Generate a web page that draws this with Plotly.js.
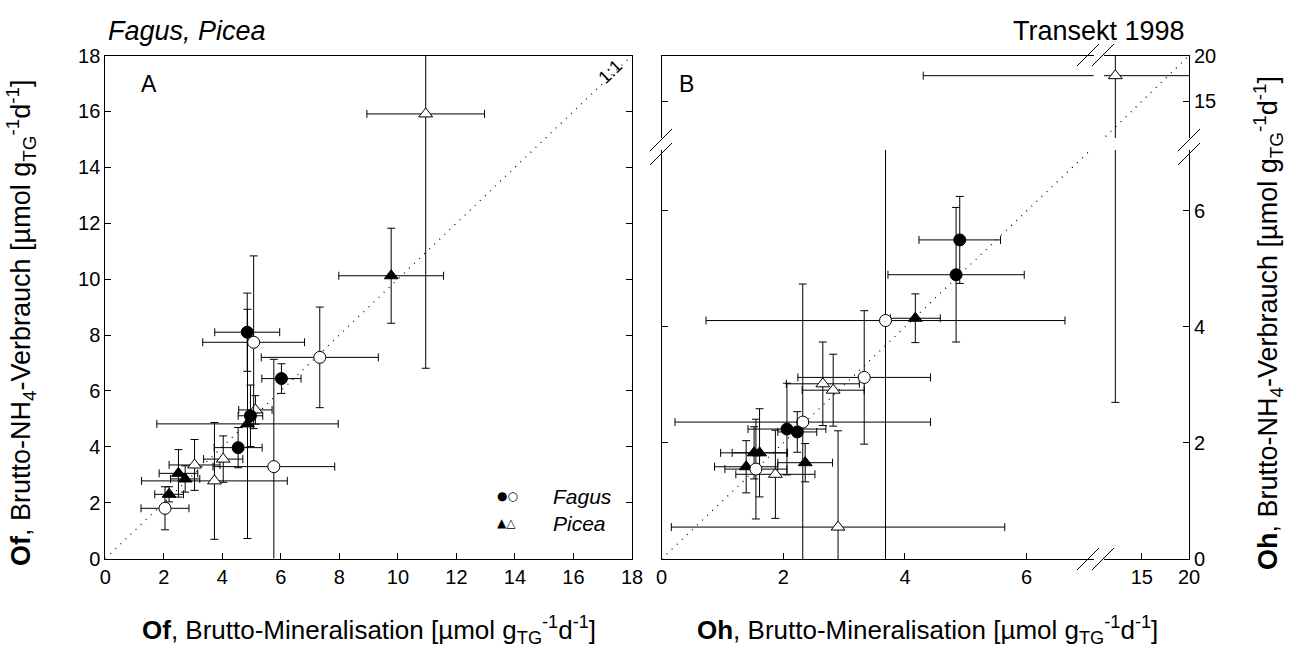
<!DOCTYPE html>
<html>
<head>
<meta charset="utf-8">
<script src="https://cdn.plot.ly/plotly-3.0.1.min.js"></script>
<style>html,body{margin:0;padding:0;background:#fff;}#chart{width:1292px;height:652px;}</style>
</head>
<body>
<div id="chart"></div>
<script>
// ---------------- Panel A (Of) ----------------
const fagusFilledA_x = [4.85, 6.02, 4.96, 4.54];
const fagusFilledA_y = [8.10, 6.44, 5.11, 3.97];
const fagusFilledA_ex = [1.11, 0.67, 0.42, 0.82];
const fagusFilledA_ey = [1.40, 0.53, 1.10, 0.72];

const fagusOpenA_x = [5.07, 7.33, 5.76, 2.04];
const fagusOpenA_y = [7.74, 7.20, 3.29, 1.80];
const fagusOpenA_ex = [1.74, 2.00, 2.08, 0.82];
const fagusOpenA_ey = [3.09, 1.80, 3.84, 0.77];

const piceaFilledA_x = [9.77, 4.86, 2.18, 2.50, 2.73];
const piceaFilledA_y = [10.12, 4.82, 2.30, 3.05, 2.85];
const piceaFilledA_ex = [1.79, 3.10, 0.49, 0.66, 0.50];
const piceaFilledA_ey = [1.70, 4.10, 0.27, 0.85, 0.47];

const piceaOpenA_x = [10.95, 5.13, 3.05, 4.03, 3.73];
const piceaOpenA_y = [15.91, 5.32, 3.35, 3.56, 2.78];
const piceaOpenA_ex = [2.01, 0.57, 0.87, 0.67, 2.49];
const piceaOpenA_ey = [9.10, 0.51, 0.91, 0.83, 2.09];

// ---------------- Panel B (Oh) ----------------
const fagusFilledB_x = [4.90, 4.84, 2.06, 2.23];
const fagusFilledB_y = [5.50, 4.90, 2.24, 2.19];
const fagusFilledB_ex = [0.67, 1.12, 0.64, 0.32];
const fagusFilledB_ey = [0.75, 1.16, 0.79, 0.35];

const fagusOpenB_x = [3.68, 3.33, 2.32, 1.55];
const fagusOpenB_y = [4.11, 3.13, 2.36, 1.55];
const fagusOpenB_ex = [2.95, 1.09, 2.10, 0.51];
const fagusOpenB_ey = [4.50, 1.15, 2.38, 0.86];

const piceaFilledB_x = [4.17, 1.52, 1.61, 1.39, 2.36];
const piceaFilledB_y = [4.15, 1.83, 1.83, 1.59, 1.66];
const piceaFilledB_ex = [0.41, 0.55, 0.45, 0.52, 0.45];
const piceaFilledB_ey = [0.42, 0.45, 0.76, 0.45, 0.33];

const piceaOpenB_x = [12.2, 2.65, 2.82, 1.87, 2.90];
const piceaOpenB_y = [17.8, 3.02, 2.91, 1.46, 0.55];
const piceaOpenB_ex = [7.90, 0.60, 0.51, 0.65, 2.74];
const piceaOpenB_ey = [15.1, 0.72, 0.62, 0.76, 1.66];

// 1:1 reference line
const oneToOne = [0, 20];

// Tick values
const tickA = [0, 2, 4, 6, 8, 10, 12, 14, 16, 18];
const tickBLow = [0, 2, 4, 6];
const tickBHigh = [15, 20];

// ---------------- helpers ----------------
const W = 1292, H = 652;
const px = v => v / W;
const py = v => 1 - v / H;
const FONT = 'Liberation Sans, Arial, Helvetica, sans-serif';

function series(x, y, ex, ey, symbol, filled, xa, ya) {
  const eb = arr => ({type: 'data', array: arr, symmetric: true, visible: true,
                      color: '#000', thickness: 1, width: 4});
  return {
    type: 'scatter', mode: 'markers', x: x, y: y, xaxis: xa, yaxis: ya,
    error_x: eb(ex), error_y: eb(ey), cliponaxis: true, hoverinfo: 'skip',
    marker: {symbol: symbol, size: 12,
             color: filled ? '#000' : '#fff', line: {color: '#000', width: 1}}
  };
}
function diag(xa, ya) {
  return {type: 'scatter', mode: 'lines', x: oneToOne, y: oneToOne, xaxis: xa, yaxis: ya,
          line: {color: '#000', width: 1.2, dash: '1px,6px'}, hoverinfo: 'skip'};
}
function empty(xa, ya) {
  return {type: 'scatter', mode: 'markers', x: [], y: [], xaxis: xa, yaxis: ya, hoverinfo: 'skip'};
}

const traces = [];
traces.push(diag('x', 'y'));
traces.push(series(piceaOpenA_x, piceaOpenA_y, piceaOpenA_ex, piceaOpenA_ey, 'triangle-up', false, 'x', 'y'));
traces.push(series(piceaFilledA_x, piceaFilledA_y, piceaFilledA_ex, piceaFilledA_ey, 'triangle-up', true, 'x', 'y'));
traces.push(series(fagusOpenA_x, fagusOpenA_y, fagusOpenA_ex, fagusOpenA_ey, 'circle', false, 'x', 'y'));
traces.push(series(fagusFilledA_x, fagusFilledA_y, fagusFilledA_ex, fagusFilledA_ey, 'circle', true, 'x', 'y'));

// Panel B: broken axes -> four sub-panels, same data drawn in each, clipped by the axes
const subB = [['x2', 'y2'], ['x3', 'y3'], ['x2', 'y3'], ['x3', 'y2']];
subB.forEach(([xa, ya]) => {
  traces.push(diag(xa, ya));
  traces.push(series(piceaOpenB_x, piceaOpenB_y, piceaOpenB_ex, piceaOpenB_ey, 'triangle-up', false, xa, ya));
  traces.push(series(piceaFilledB_x, piceaFilledB_y, piceaFilledB_ex, piceaFilledB_ey, 'triangle-up', true, xa, ya));
  traces.push(series(fagusOpenB_x, fagusOpenB_y, fagusOpenB_ex, fagusOpenB_ey, 'circle', false, xa, ya));
  traces.push(series(fagusFilledB_x, fagusFilledB_y, fagusFilledB_ex, fagusFilledB_ey, 'circle', true, xa, ya));
});
// frame axes on the right and top of panel B
traces.push(empty('x3', 'y4'));
traces.push(empty('x3', 'y5'));
traces.push(empty('x4', 'y3'));
traces.push(empty('x5', 'y3'));

const axBase = {
  showgrid: false, zeroline: false, showline: true, linecolor: '#000', linewidth: 1,
  ticks: 'inside', ticklen: 6, tickcolor: '#000', tickwidth: 1,
  tickfont: {family: FONT, size: 20, color: '#000'}, fixedrange: true
};
const ax = o => Object.assign({}, axBase, o);

// domains
const A_x = [px(105.3), px(632)];
const A_y = [py(558.6), py(55.5)];
const BxLow = [px(661.6), px(1093.6)];
const BxHigh = [px(1104), px(1189)];
const ByLow = [py(559), py(150)];
const ByHigh = [py(138), py(55.5)];

function brk(x0, y0, x1, y1) {
  return {type: 'line', xref: 'paper', yref: 'paper', x0: px(x0), y0: py(y0), x1: px(x1), y1: py(y1),
          line: {color: '#000', width: 1}};
}

const sub = (b, s) => b + '<sub>' + s + '</sub>';
const unit = '[µmol g<sub>TG</sub><sup>-1</sup>d<sup>-1</sup>]';

const layout = {
  width: W, height: H, margin: {l: 0, r: 0, t: 0, b: 0},
  paper_bgcolor: '#fff', plot_bgcolor: 'rgba(0,0,0,0)', showlegend: false,
  font: {family: FONT, color: '#000'},
  xaxis: ax({domain: A_x, range: [0, 18], anchor: 'y', tickvals: tickA, mirror: true}),
  yaxis: ax({domain: A_y, range: [0, 18], anchor: 'x', tickvals: tickA, mirror: 'ticks'}),

  xaxis2: ax({domain: BxLow, range: [0, 7.1], anchor: 'y2', tickvals: tickBLow}),
  xaxis3: ax({domain: BxHigh, range: [11, 20], anchor: 'y2', tickvals: tickBHigh}),
  yaxis2: ax({domain: ByLow, range: [0, 7.05], anchor: 'x2', side: 'left', tickvals: tickBLow, showticklabels: false}),
  yaxis3: ax({domain: ByHigh, range: [11, 20], anchor: 'x2', side: 'left', tickvals: tickBHigh, showticklabels: false}),
  yaxis4: ax({overlaying: 'y2', range: [0, 7.05], anchor: 'x3', side: 'right', tickvals: tickBLow}),
  yaxis5: ax({overlaying: 'y3', range: [11, 20], anchor: 'x3', side: 'right', tickvals: tickBHigh}),
  xaxis4: ax({overlaying: 'x2', range: [0, 7.1], anchor: 'y3', side: 'top', ticks: '', showticklabels: false}),
  xaxis5: ax({overlaying: 'x3', range: [11, 20], anchor: 'y3', side: 'top', ticks: '', showticklabels: false}),

  shapes: [
    brk(1077, 66, 1099, 44), brk(1092, 66, 1114, 44),
    brk(1077, 570, 1099, 548), brk(1092, 570, 1114, 548),
    brk(1178, 151, 1200, 129), brk(1178, 165, 1200, 143),
    brk(650, 151, 672, 129), brk(650, 165, 672, 143)
  ],

  annotations: [
    {xref: 'paper', yref: 'paper', x: px(106), y: py(31), xanchor: 'left', yanchor: 'middle', showarrow: false,
     text: '<i>Fagus, Picea</i>', font: {family: FONT, size: 27}},
    {xref: 'paper', yref: 'paper', x: px(1187), y: py(31), xanchor: 'right', yanchor: 'middle', showarrow: false,
     text: 'Transekt 1998', font: {family: FONT, size: 27}},
    {xref: 'paper', yref: 'paper', x: px(139), y: py(84), xanchor: 'left', yanchor: 'middle', showarrow: false,
     text: 'A', font: {family: FONT, size: 23}},
    {xref: 'paper', yref: 'paper', x: px(677), y: py(84), xanchor: 'left', yanchor: 'middle', showarrow: false,
     text: 'B', font: {family: FONT, size: 23}},
    {xref: 'paper', yref: 'paper', x: px(610), y: py(72), xanchor: 'center', yanchor: 'middle', showarrow: false,
     text: '1:1', textangle: -44, font: {family: FONT, size: 18}},
    // legend
    {xref: 'paper', yref: 'paper', x: px(495), y: py(496), xanchor: 'left', yanchor: 'middle', showarrow: false,
     text: '●○', font: {family: 'DejaVu Sans, sans-serif', size: 12}},
    {xref: 'paper', yref: 'paper', x: px(495), y: py(523), xanchor: 'left', yanchor: 'middle', showarrow: false,
     text: '▲△', font: {family: 'DejaVu Sans, sans-serif', size: 12}},
    {xref: 'paper', yref: 'paper', x: px(551), y: py(496), xanchor: 'left', yanchor: 'middle', showarrow: false,
     text: '<i>Fagus</i>', font: {family: FONT, size: 21}},
    {xref: 'paper', yref: 'paper', x: px(551), y: py(523), xanchor: 'left', yanchor: 'middle', showarrow: false,
     text: '<i>Picea</i>', font: {family: FONT, size: 21}},
    // axis titles
    {xref: 'paper', yref: 'paper', x: px(369), y: py(630), xanchor: 'center', yanchor: 'middle', showarrow: false,
     text: '<b>Of</b>, Brutto-Mineralisation ' + unit, font: {family: FONT, size: 26}},
    {xref: 'paper', yref: 'paper', x: px(927), y: py(630), xanchor: 'center', yanchor: 'middle', showarrow: false,
     text: '<b>Oh</b>, Brutto-Mineralisation ' + unit, font: {family: FONT, size: 26}},
    {xref: 'paper', yref: 'paper', x: px(21), y: py(323), xanchor: 'center', yanchor: 'middle', showarrow: false,
     textangle: -90, text: '<b>Of</b>, Brutto-' + sub('NH', '4') + '-Verbrauch ' + unit, font: {family: FONT, size: 27}},
    {xref: 'paper', yref: 'paper', x: px(1268), y: py(323), xanchor: 'center', yanchor: 'middle', showarrow: false,
     textangle: -90, text: '<b>Oh</b>, Brutto-' + sub('NH', '4') + '-Verbrauch ' + unit, font: {family: FONT, size: 27}}
  ]
};

Plotly.newPlot('chart', traces, layout, {staticPlot: true, displayModeBar: false});
</script>
</body>
</html>
